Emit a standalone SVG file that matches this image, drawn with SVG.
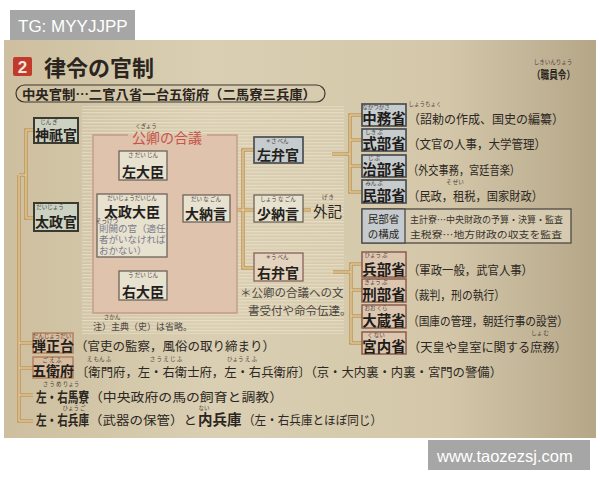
<svg xmlns="http://www.w3.org/2000/svg" width="600" height="480" viewBox="0 0 600 480">
<defs>
<linearGradient id="pg" x1="0" y1="0" x2="1" y2="0">
<stop offset="0" stop-color="#cdbf9f"/>
<stop offset="0.35" stop-color="#dacfb3"/>
<stop offset="0.75" stop-color="#d4c7a9"/>
<stop offset="1" stop-color="#b5a688"/>
</linearGradient>
<pattern id="st" width="8" height="3.3" patternUnits="userSpaceOnUse">
<rect width="8" height="1.1" fill="#ebe2cb" opacity="0.75"/>
</pattern>
<style>
.j{font-family:"Noto Sans CJK JP","Noto Sans CJK SC",sans-serif;fill:#2b2520}
.b{font-weight:bold}
.rb{font-family:"Noto Sans CJK JP",sans-serif;font-size:5.5px;fill:#4a4038;text-anchor:middle}
.lb{font-family:"Noto Sans CJK JP",sans-serif;font-size:14px;font-weight:bold;text-anchor:middle;fill:#241f1b}
.ml{font-family:"Noto Sans CJK JP",sans-serif;font-size:14.5px;font-weight:bold;text-anchor:middle;fill:#1f1c1a}
.d{font-family:"Noto Sans CJK JP",sans-serif;font-size:12.5px;fill:#2d2824}
.bx{fill:#e7e1d0;stroke:#6e6458;stroke-width:1.3}
.g{fill:#ccd2c1;stroke:#3a3a30;stroke-width:2}
.bl{fill:#c6ccce;stroke:#4a4e52;stroke-width:1.7}
.pk{fill:#dcc6b0;stroke:#8c5c4c;stroke-width:1.5}
.o{fill:none;stroke:#c2995a;stroke-width:3.6}
.i{fill:none;stroke:#e8dab8;stroke-width:1}
</style>
</defs>
<rect width="600" height="480" fill="#ffffff"/>
<rect x="4" y="40" width="592" height="398" fill="url(#pg)"/>
<rect x="82" y="106" width="262" height="228" fill="url(#st)"/>

<g id="watermark-top">
<rect x="10" y="10" width="125" height="30" fill="#a6a6a6"/>
<text x="18" y="32" font-family="Liberation Sans,Arial,sans-serif" font-size="17" fill="#ffffff">TG: MYYJJPP</text>
</g>
<g id="watermark-bottom">
<rect x="428" y="440" width="162" height="30" fill="#a6a6a6"/>
<text x="437" y="462" font-family="Liberation Sans,Arial,sans-serif" font-size="16.5" fill="#ffffff">www.taozezsj.com</text>
</g>

<g id="title">
<rect x="13" y="57" width="19" height="19" rx="2" fill="#c23a2c"/>
<text x="22.5" y="73" font-family="Liberation Sans,Arial,sans-serif" font-weight="bold" font-size="17" fill="#f4e6dc" text-anchor="middle">2</text>
<text x="44" y="76" class="j b" font-size="22">律令の官制</text>
<text x="553" y="64" class="rb" font-size="4.5">しきいんりょう</text>
<text x="532" y="79" class="j b" font-size="11" textLength="43" lengthAdjust="spacingAndGlyphs">（職員令）</text>
</g>

<g id="summary">
<rect x="16" y="85" width="309" height="17" rx="8.5" fill="none" stroke="#3d3630" stroke-width="1.2"/>
<text x="22" y="98.5" class="j b" font-size="13" textLength="294" lengthAdjust="spacingAndGlyphs">中央官制…二官八省一台五衛府（二馬寮三兵庫）</text>
</g>

<g id="connectors">
<path class="o" d="M34 130H26V218H34M19 175H26M19 175V421H33M19 343H33M19 368H33M19 395H33M167 166H177V285H167M177 210H183M230 210H243M254 150H243V268H254M243 210H254M303 210H311M332 154H350M362 115H350V192H362M350 140H362M350 166H362M333 272H351M362 264H351V343H362M351 290H362M351 316H362"/>
<path class="i" d="M34 130H26V218H34M19 175H26M19 175V421H33M19 343H33M19 368H33M19 395H33M167 166H177V285H167M177 210H183M230 210H243M254 150H243V268H254M243 210H254M303 210H311M332 154H350M362 115H350V192H362M350 140H362M350 166H362M333 272H351M362 264H351V343H362M351 290H362M351 316H362"/>
</g>

<g id="jingikan">
<rect x="34" y="118" width="44" height="25" class="g"/>
<text x="49" y="123.5" class="rb" font-size="5">じん ぎ</text>
<text x="56" y="140" class="lb" font-size="13">神祇官</text>
</g>
<g id="daijokan">
<rect x="34" y="203" width="44" height="28" class="g"/>
<text x="50" y="208.5" class="rb" font-size="5">だいじょう</text>
<text x="56" y="227" class="lb" font-size="13.5">太政官</text>
</g>

<g id="kugyo">
<rect x="93" y="135" width="144" height="178" fill="#dfc3ad"/>
<path d="M128 135H93V313H237V135H207" fill="none" stroke="#c29c86" stroke-width="1.4"/>
<text x="146" y="128" class="rb" font-size="5">くぎょう</text>
<text x="167" y="143" class="j" font-size="14" style="fill:#c4554a" text-anchor="middle">公卿の合議</text>
</g>

<g id="sadaijin">
<rect x="119" y="151" width="48" height="29" class="bx"/>
<text x="143" y="157" class="rb" font-size="5">さ だい じん</text>
<text x="143" y="176.5" class="lb" font-size="14.5">左大臣</text>
</g>
<g id="dajodaijin">
<rect x="97" y="194" width="70" height="63" class="bx"/>
<text x="132" y="200" class="rb" font-size="5">だいじょうだいじん</text>
<text x="132" y="217" class="lb" font-size="15.5">太政大臣</text>
<text x="107" y="223" class="rb" font-size="4.5">そっけつ</text>
<text x="99" y="232" class="j" font-size="9.5" style="fill:#7a7b8a">則闕の官（適任</text>
<text x="99" y="243" class="j" font-size="9.5" style="fill:#7a7b8a">者がいなければ</text>
<text x="99" y="254" class="j" font-size="9.5" style="fill:#7a7b8a">おかない）</text>
</g>
<g id="udaijin">
<rect x="119" y="271" width="48" height="29" class="bx"/>
<text x="143" y="277" class="rb" font-size="5">う だい じん</text>
<text x="143" y="296.5" class="lb" font-size="14.5">右大臣</text>
</g>
<g id="dainagon">
<rect x="183" y="195" width="47" height="27" class="bx"/>
<text x="206" y="201" class="rb" font-size="5">だい な ごん</text>
<text x="206" y="218.5" class="lb" font-size="14">大納言</text>
</g>
<g id="sabenkan">
<rect x="254" y="137" width="49" height="26" class="bl"/>
<text x="277" y="142.5" class="rb" font-size="5">＊さ  べん</text>
<text x="278" y="160" class="lb" font-size="14.5">左弁官</text>
</g>
<g id="shonagon">
<rect x="254" y="195" width="49" height="27" class="bx"/>
<text x="278" y="201" class="rb" font-size="5">しょう な ごん</text>
<text x="278" y="218.5" class="lb" font-size="14.5">少納言</text>
</g>
<g id="geki">
<text x="328" y="199" class="rb" font-size="5">げ き</text>
<text x="313" y="217" class="j" font-size="14.5">外記</text>
</g>
<g id="ubenkan">
<rect x="254" y="253" width="49" height="28" class="bx" style="fill:#e4d3bf;stroke:#86625a"/>
<text x="277" y="258.5" class="rb" font-size="5">＊う  べん</text>
<text x="278" y="277.5" class="lb" font-size="14.5">右弁官</text>
</g>
<g id="notes">
<text x="240" y="297" class="j" font-size="11.5" style="fill:#4c4640">＊公卿の合議への文</text>
<text x="248" y="315" class="j" font-size="11.5" style="fill:#4c4640">書受付や命令伝達。</text>
<text x="112" y="318.5" class="rb" font-size="4.5">さかん</text>
<text x="93" y="330" class="j" font-size="9" style="fill:#4c4640">注）主典（史）は省略。</text>
</g>

<g id="nakatsukasa">
<rect x="362" y="104" width="44" height="22" class="bl"/>
<text x="376" y="108.5" class="rb" font-size="4.5">なかつかさ</text>
<text x="384" y="124" class="ml">中務省</text>
<text x="425" y="106" class="rb" font-size="5">しょうちょく</text>
<text x="408" y="124" class="d" textLength="156" lengthAdjust="spacingAndGlyphs">（詔勅の作成、国史の編纂）</text>
</g>
<g id="shikibu">
<rect x="362" y="129" width="44" height="22" class="bl"/>
<text x="374" y="133.5" class="rb" font-size="4.5">しき ぶ</text>
<text x="384" y="149" class="ml">式部省</text>
<text x="408" y="149" class="d" textLength="138" lengthAdjust="spacingAndGlyphs">（文官の人事，大学管理）</text>
</g>
<g id="jibu">
<rect x="362" y="155" width="44" height="22" class="bl"/>
<text x="374" y="159.5" class="rb" font-size="4.5">じ  ぶ</text>
<text x="384" y="175" class="ml">治部省</text>
<text x="408" y="175" class="d" textLength="112" lengthAdjust="spacingAndGlyphs">（外交事務，宮廷音楽）</text>
</g>
<g id="minbu">
<rect x="362" y="180" width="44" height="23" class="bl"/>
<text x="374" y="184.5" class="rb" font-size="4.5">みん ぶ</text>
<text x="384" y="200.5" class="ml">民部省</text>
<text x="455" y="184" class="rb" font-size="5">そ ぜい</text>
<text x="408" y="200.5" class="d" textLength="135" lengthAdjust="spacingAndGlyphs">（民政，租税，国家財政）</text>
</g>
<g id="minbu-structure">
<rect x="362" y="209" width="209" height="34" fill="#d6cbb0" stroke="#4f4a44" stroke-width="1.3"/>
<rect x="362" y="209" width="43" height="34" fill="#c4cacd" stroke="#4f4a44" stroke-width="1.3"/>
<text x="383.5" y="223" class="j" font-size="10.5" text-anchor="middle">民部省</text>
<text x="383.5" y="238" class="j" font-size="10.5" text-anchor="middle">の構成</text>
<text x="410" y="223" class="j" font-size="9.5" textLength="153" lengthAdjust="spacingAndGlyphs" style="fill:#3a342e">主計寮…中央財政の予算・決算・監査</text>
<text x="410" y="238" class="j" font-size="9.5" textLength="152" lengthAdjust="spacingAndGlyphs" style="fill:#3a342e">主税寮…地方財政の収支を監査</text>
</g>
<g id="hyobu">
<rect x="362" y="252" width="44" height="25" class="pk"/>
<text x="376" y="257" class="rb" font-size="4.5">ひょう ぶ</text>
<text x="384" y="274.5" class="ml">兵部省</text>
<text x="408" y="274.5" class="d" textLength="125" lengthAdjust="spacingAndGlyphs">（軍政一般，武官人事）</text>
</g>
<g id="gyobu">
<rect x="362" y="279" width="44" height="23" class="pk"/>
<text x="376" y="283.5" class="rb" font-size="4.5">ぎょう ぶ</text>
<text x="384" y="299.5" class="ml">刑部省</text>
<text x="408" y="299.5" class="d" textLength="97" lengthAdjust="spacingAndGlyphs">（裁判，刑の執行）</text>
</g>
<g id="okura">
<rect x="362" y="305" width="44" height="23" class="pk"/>
<text x="376" y="309.5" class="rb" font-size="4.5">おお くら</text>
<text x="384" y="325.5" class="ml">大蔵省</text>
<text x="408" y="325.5" class="d" textLength="160" lengthAdjust="spacingAndGlyphs">（国庫の管理，朝廷行事の設営）</text>
</g>
<g id="kunai">
<rect x="362" y="332" width="44" height="22" class="pk"/>
<text x="376" y="336.5" class="rb" font-size="4.5">く ない</text>
<text x="384" y="352" class="ml">宮内省</text>
<text x="540" y="335" class="rb" font-size="5">しょ む</text>
<text x="408" y="352" class="d" textLength="159" lengthAdjust="spacingAndGlyphs">（天皇や皇室に関する庶務）</text>
</g>

<g id="danjodai">
<rect x="33" y="333" width="40" height="20" class="pk" style="fill:#d8bc9f;stroke:#b4805e"/>
<text x="52" y="337.5" class="rb" font-size="4.5">だんじょうだい</text>
<text x="53" y="351" class="lb" font-size="13">弾正台</text>
<text x="75" y="351" class="d" font-size="13">（官吏の監察，風俗の取り締まり）</text>
</g>
<g id="goeifu">
<rect x="33" y="357" width="40" height="21" class="pk" style="fill:#d8bc9f;stroke:#b4805e"/>
<text x="52" y="361.5" class="rb" font-size="4.5">ご  え  ふ</text>
<text x="53" y="376" class="lb" font-size="13">五衛府</text>
<text x="99" y="360.5" class="rb" font-size="4.5">え もん ふ</text>
<text x="166" y="360.5" class="rb" font-size="4.5">さ     う  え  じ  ふ</text>
<text x="242" y="360.5" class="rb" font-size="4.5">ひょう え ふ</text>
<text x="76" y="376.5" class="d" font-size="12.5" textLength="426" lengthAdjust="spacingAndGlyphs">〔衛門府，左・右衛士府，左・右兵衛府〕（京・大内裏・内裏・宮門の警備）</text>
</g>
<g id="meryo">
<text x="61" y="386" class="rb" font-size="4.5">さ   う   め りょう</text>
<text x="36" y="402" class="j b" font-size="13.5" textLength="53" lengthAdjust="spacingAndGlyphs">左・右馬寮</text>
<text x="89" y="402" class="d" font-size="13.5" textLength="194" lengthAdjust="spacingAndGlyphs">（中央政府の馬の飼育と調教）</text>
</g>
<g id="hyogo">
<text x="74" y="409.5" class="rb" font-size="4.5">ひょう ご</text>
<text x="36" y="425" class="j b" font-size="13.5" textLength="53" lengthAdjust="spacingAndGlyphs">左・右兵庫</text>
<text x="89" y="425" class="d" font-size="13.5" textLength="108" lengthAdjust="spacingAndGlyphs">（武器の保管）と</text>
<text x="204" y="409.5" class="rb" font-size="4.5">ない</text>
<text x="198" y="425" class="j b" font-size="14.5">内兵庫</text>
<text x="243" y="425" class="d" font-size="13.5" textLength="139" lengthAdjust="spacingAndGlyphs">（左・右兵庫とほぼ同じ）</text>
</g>
</svg>
